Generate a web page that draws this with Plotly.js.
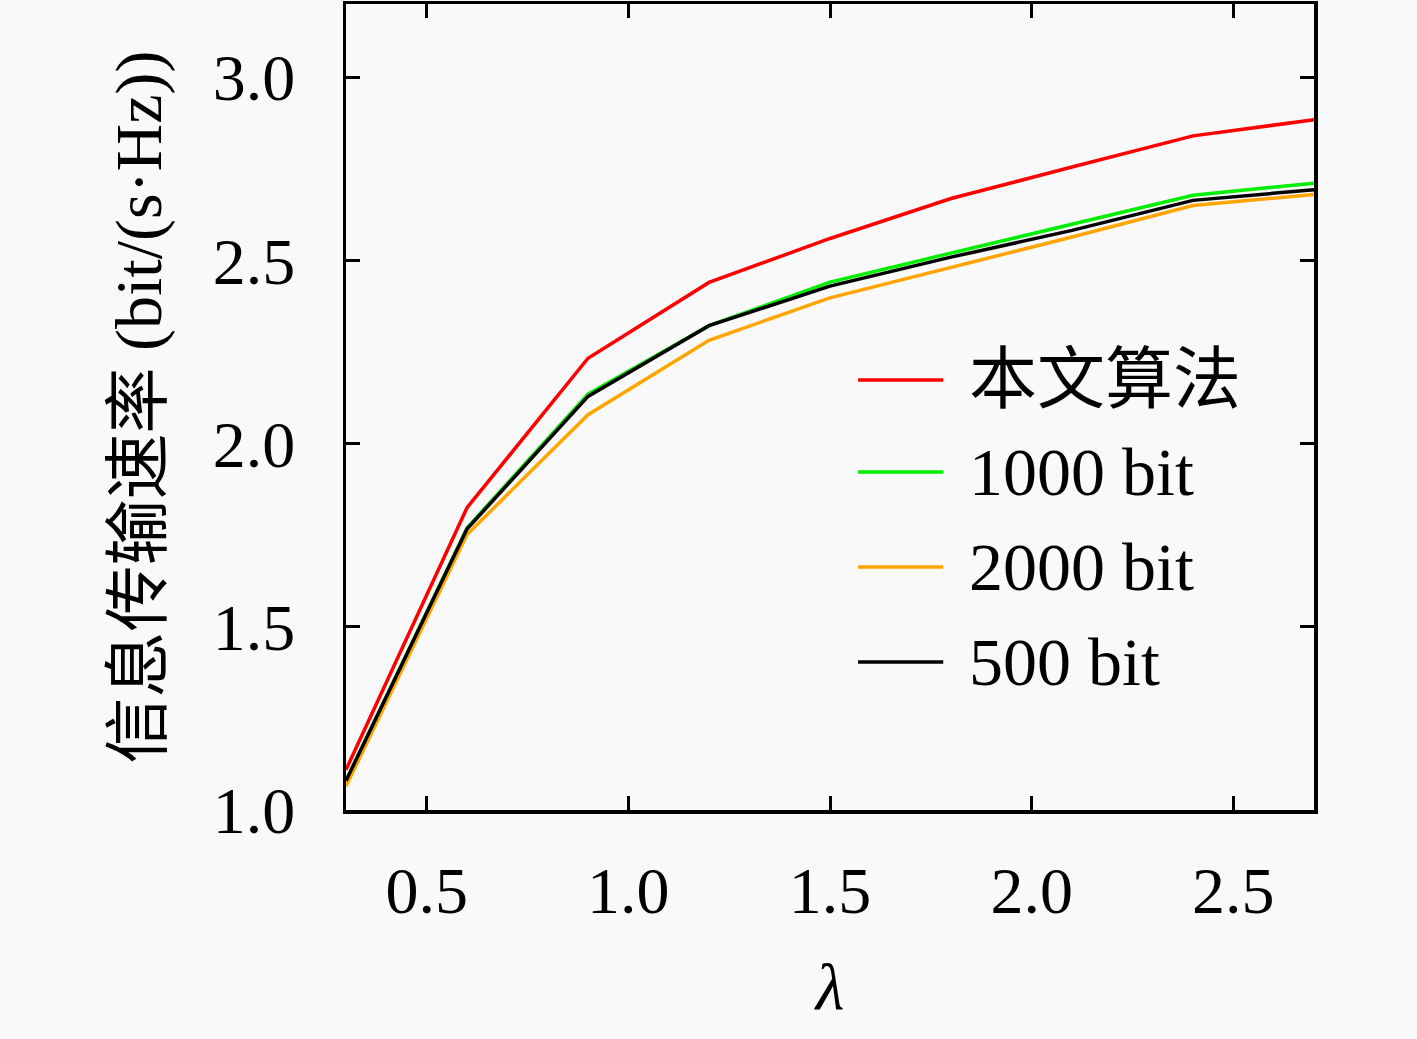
<!DOCTYPE html>
<html>
<head>
<meta charset="utf-8">
<script src="https://cdn.plot.ly/plotly-3.0.1.min.js"></script>
<style>html,body{margin:0;padding:0;background:#f9f9f9;}#chart{width:1417px;height:1039px;}</style>
</head>
<body>
<div id="chart"></div>
<script>
const lambdaValues = [0.3, 0.6, 0.9, 1.2, 1.5, 1.8, 2.1, 2.4, 2.7];
const seriesNames = ['本文算法', '1000 bit', '2000 bit', '500 bit'];
const seriesColors = ['#ff0000', '#00ee00', '#ffa500', '#000000'];
const proposed = [1.11, 1.825, 2.233, 2.44, 2.56, 2.669, 2.755, 2.84, 2.884];
const bits1000 = [1.08, 1.77, 2.135, 2.322, 2.441, 2.52, 2.60, 2.678, 2.711];
const bits2000 = [1.065, 1.752, 2.079, 2.282, 2.398, 2.48, 2.564, 2.65, 2.68];
const bits500 = [1.08, 1.767, 2.129, 2.322, 2.43, 2.509, 2.582, 2.664, 2.693];
const xTicks = [0.5, 1.0, 1.5, 2.0, 2.5];
const xTickText = ['0.5', '1.0', '1.5', '2.0', '2.5'];
const yTicks = [1.0, 1.5, 2.0, 2.5, 3.0];
const yTickText = ['1.0', '1.5', '2.0', '2.5', '3.0'];

const seriesValues = [proposed, bits1000, bits2000, bits500];
const traces = seriesValues.map((vals, i) => ({
  x: lambdaValues, y: vals, type: 'scatter', mode: 'lines',
  name: seriesNames[i], showlegend: false,
  line: {color: seriesColors[i], width: 3.5}
}));

const FONT = 'Liberation Serif, "Noto Sans CJK SC", serif';

// legend drawn in paper coordinates (plot area: x 346..1314, y 4..810)
const legendRowsY = [0.5335, 0.4194, 0.3015, 0.1836];
const shapes = [], annotations = [];
seriesNames.forEach((name, i) => {
  shapes.push({type: 'line', xref: 'paper', yref: 'paper',
    x0: 0.529, x1: 0.617, y0: legendRowsY[i], y1: legendRowsY[i],
    line: {color: seriesColors[i], width: 3.5}});
  annotations.push({xref: 'paper', yref: 'paper', x: 0.642, y: legendRowsY[i],
    xanchor: 'left', yanchor: 'middle', showarrow: false, text: name,
    font: {family: FONT, size: 68, color: '#000'}});
});

const layout = {
  width: 1417, height: 1039,
  paper_bgcolor: '#f9f9f9', plot_bgcolor: '#f9f9f9',
  margin: {l: 346, r: 103, t: 4, b: 229},
  font: {family: FONT, size: 66, color: '#000'},
  showlegend: false,
  shapes: shapes, annotations: annotations,
  xaxis: {
    range: [0.3, 2.7], tickvals: xTicks, ticktext: xTickText,
    ticks: 'inside', ticklen: 14, tickwidth: 3, tickcolor: '#000',
    showline: true, linewidth: 3.5, linecolor: '#000', mirror: 'ticks',
    showgrid: false, zeroline: false, ticklabelstandoff: 20,
    tickfont: {family: FONT, size: 66},
    title: {text: '<i>λ</i>', font: {family: FONT, size: 66}, standoff: 38}
  },
  yaxis: {
    range: [1.0, 3.2], tickvals: yTicks, ticktext: yTickText,
    ticks: 'inside', ticklen: 14, tickwidth: 3, tickcolor: '#000',
    showline: true, linewidth: 3.5, linecolor: '#000', mirror: 'ticks',
    showgrid: false, zeroline: false, ticklabelstandoff: 34,
    tickfont: {family: FONT, size: 66},
    title: {text: '信息传输速率 (bit/(s·Hz))', font: {family: FONT, size: 66}, standoff: 30}
  }
};
Plotly.newPlot('chart', traces, layout, {displayModeBar: false, staticPlot: true});
</script>
</body>
</html>
